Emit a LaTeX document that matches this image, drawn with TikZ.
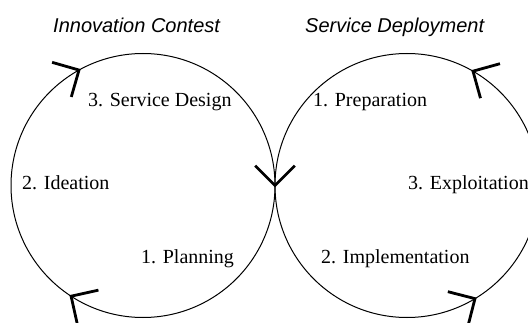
\documentclass[tikz,border=0pt]{standalone}
\usepackage{fontspec}
\setmainfont{Liberation Serif}
\newfontfamily\titlefont{Liberation Sans}
\begin{document}
\begin{tikzpicture}[x=1pt,y=1pt,
  ring/.style={circle,draw=black,line width=1pt,minimum size=264pt,inner sep=0pt,outer sep=0pt},
  lbl/.style={anchor=base west,inner sep=0pt,font=\fontsize{20}{24}\selectfont},
  ttl/.style={anchor=base west,inner sep=0pt,font=\titlefont\itshape\fontsize{20}{24}\selectfont},
  headline/.style={draw=black,line width=2.8pt,miter limit=10},
  vhead/.pic={\draw[headline] (-19.8,19.8) -- (0,0) -- (-19.8,-19.8);}
]
\useasboundingbox (0,0) rectangle (528,322);
\clip (0,0) rectangle (528,322);
\node[ring] (lc) at (143,136.5) {};
\node[ring] (rc) at (407,136.5) {};
% arrowheads
\pic[rotate=29] at (lc.119) {vhead};
\pic[rotate=147.5] at (lc.237.5) {vhead};
\pic[rotate=-90] at (lc.0) {vhead};
\pic[rotate=150.5] at (rc.60.5) {vhead};
\pic[rotate=30.6] at (rc.-59.4) {vhead};
% titles
\node[ttl] (t1) at (53,289) {Innovation Contest};
\node[ttl] (t2) at (305,289) {Service Deployment};
% labels
\node[lbl] (sd) at (88,215) {3. Service Design};
\node[lbl] (id) at (22,132) {2. Ideation};
\node[lbl] (pl) at (141,59) {1. Planning};
\node[lbl] (pr) at (313,215) {1. Preparation};
\node[lbl] (ex) at (408,132) {3. Exploitation};
\node[lbl] (im) at (321,59) {2. Implementation};
\end{tikzpicture}
\end{document}
